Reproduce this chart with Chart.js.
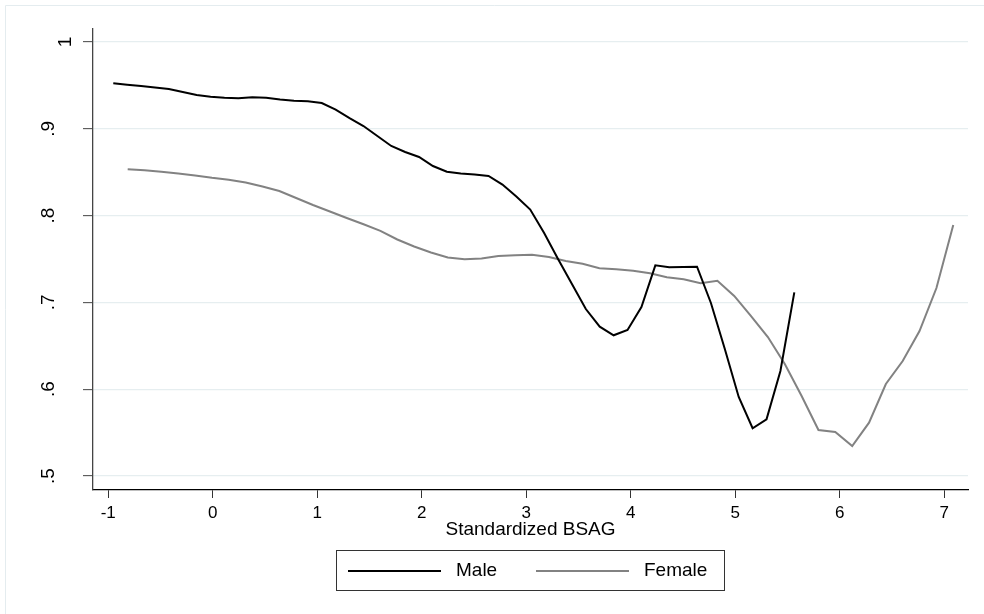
<!DOCTYPE html>
<html><head><meta charset="utf-8">
<script src="https://cdn.jsdelivr.net/npm/chart.js@4.4.0/dist/chart.umd.min.js"></script>
<style>html,body{margin:0;padding:0;background:#fff;}#wrap{width:984px;height:614px;}canvas{display:block;}</style>
</head><body><div id="wrap"><canvas id="c" width="984" height="614"></canvas></div>
<script>
const maleX = [-0.952,-0.819,-0.686,-0.553,-0.420,-0.287,-0.154,-0.021,0.112,0.245,0.378,0.511,0.644,0.777,0.910,1.043,1.176,1.309,1.442,1.575,1.708,1.841,1.974,2.107,2.240,2.373,2.506,2.639,2.772,2.905,3.038,3.171,3.304,3.437,3.570,3.703,3.836,3.969,4.102,4.235,4.368,4.501,4.634,4.767,4.900,5.033,5.166,5.299,5.432,5.565];
const maleY = [0.9524,0.9507,0.9493,0.9476,0.9459,0.9424,0.9389,0.9369,0.9357,0.9351,0.9364,0.9357,0.9338,0.9324,0.9317,0.9297,0.9222,0.9124,0.9032,0.8917,0.8802,0.8733,0.8675,0.8571,0.8506,0.8485,0.8474,0.8456,0.8358,0.8220,0.8070,0.7800,0.7500,0.7212,0.6924,0.6720,0.6621,0.6682,0.6947,0.7427,0.7404,0.7408,0.7411,0.6993,0.6463,0.5910,0.5550,0.5653,0.6210,0.7116];
const femaleX = [-0.814,-0.653,-0.492,-0.330,-0.169,-0.008,0.153,0.315,0.476,0.637,0.798,0.959,1.121,1.282,1.443,1.604,1.766,1.927,2.088,2.249,2.410,2.572,2.733,2.894,3.055,3.217,3.378,3.539,3.700,3.861,4.023,4.184,4.345,4.506,4.668,4.829,4.990,5.151,5.312,5.474,5.635,5.796,5.957,6.119,6.280,6.441,6.602,6.763,6.925,7.086];
const femaleY = [0.8533,0.8522,0.8505,0.8485,0.8462,0.8435,0.8414,0.8381,0.8335,0.8283,0.8203,0.8122,0.8047,0.7972,0.7900,0.7825,0.7725,0.7644,0.7575,0.7517,0.7497,0.7506,0.7535,0.7543,0.7548,0.7523,0.7477,0.7445,0.7393,0.7381,0.7365,0.7335,0.7289,0.7266,0.7220,0.7250,0.7074,0.6843,0.6601,0.6290,0.5922,0.5530,0.5507,0.5346,0.5614,0.6060,0.6325,0.6670,0.7166,0.7892];
const xTicks = [-1,0,1,2,3,4,5,6,7];
const xTickLabels = ['-1','0','1','2','3','4','5','6','7'];
const yTicks = [0.5,0.6,0.7,0.8,0.9,1];
const yTickLabels = ['.5','.6','.7','.8','.9','1'];
const seriesNames = ['Male','Female'];
const xTitle = 'Standardized BSAG';

const FONT = '"Liberation Sans", Arial, Helvetica, sans-serif';
const toPts = (xs, ys) => xs.map((x, i) => ({x: x, y: ys[i]}));

const framePlugin = {
  id: 'frame',
  beforeDraw(chart) {
    const ctx = chart.ctx;
    ctx.save();
    ctx.fillStyle = '#ffffff';
    ctx.fillRect(0, 0, chart.width, chart.height);
    ctx.strokeStyle = '#e4ecef';
    ctx.lineWidth = 1;
    ctx.beginPath();
    ctx.moveTo(5.5, chart.height);
    ctx.lineTo(5.5, 5.5);
    ctx.lineTo(chart.width, 5.5);
    ctx.stroke();
    ctx.restore();
  }
};

const yLabelPlugin = {
  id: 'ylabels',
  afterDraw(chart) {
    const ctx = chart.ctx;
    const sc = chart.scales.y;
    ctx.save();
    ctx.fillStyle = '#000';
    ctx.font = '19px ' + FONT;
    ctx.textAlign = 'center';
    ctx.textBaseline = 'middle';
    sc.ticks.forEach((t) => {
      const py = sc.getPixelForValue(t.value);
      const lab = yTickLabels[yTicks.indexOf(t.value)];
      const cx = lab.length === 1 ? 65.5 : 49;
      ctx.save();
      ctx.translate(cx, py);
      ctx.rotate(-Math.PI / 2);
      ctx.fillText(lab, 0, 0);
      ctx.restore();
    });
    ctx.restore();
  }
};

const legendPlugin = {
  id: 'boxlegend',
  afterDraw(chart) {
    const ctx = chart.ctx;
    ctx.save();
    ctx.strokeStyle = '#333333';
    ctx.lineWidth = 1;
    ctx.strokeRect(336.5, 550.5, 388, 40);
    const items = [
      {x0: 348, x1: 441, tx: 456, ds: chart.data.datasets[0]},
      {x0: 536, x1: 629, tx: 644, ds: chart.data.datasets[1]}
    ];
    ctx.font = '19px ' + FONT;
    ctx.textAlign = 'left';
    ctx.textBaseline = 'middle';
    items.forEach(it => {
      ctx.strokeStyle = it.ds.borderColor;
      ctx.lineWidth = 2;
      ctx.beginPath();
      ctx.moveTo(it.x0, 571);
      ctx.lineTo(it.x1, 571);
      ctx.stroke();
      ctx.fillStyle = '#000';
      ctx.fillText(it.ds.label, it.tx, 571);
    });
    ctx.restore();
  }
};

new Chart(document.getElementById('c'), {
  type: 'line',
  data: {
    datasets: [
      {label: seriesNames[0], data: toPts(maleX, maleY), borderColor: '#000000', borderWidth: 2, pointRadius: 0, tension: 0, fill: false},
      {label: seriesNames[1], data: toPts(femaleX, femaleY), borderColor: '#828282', borderWidth: 2, pointRadius: 0, tension: 0, fill: false}
    ]
  },
  options: {
    responsive: false,
    animation: false,
    devicePixelRatio: 1,
    layout: {padding: {left: 0, right: 16, top: 29, bottom: 0}},
    plugins: {legend: {display: false}, tooltip: {enabled: false}},
    scales: {
      x: {
        type: 'linear',
        min: -1.146,
        max: 7.227,
        afterBuildTicks(s) { s.ticks = xTicks.map(v => ({value: v})); },
        afterFit(s) { s.height = 124; },
        ticks: {
          color: '#000',
          font: {family: FONT, size: 17, lineHeight: 1.2},
          padding: 5.5,
          maxRotation: 0,
          minRotation: 0,
          autoSkip: false,
          callback(v) { return xTickLabels[xTicks.indexOf(v)]; }
        },
        grid: {drawOnChartArea: false, drawTicks: true, tickLength: 8, tickColor: '#333333', tickWidth: 1},
        border: {display: true, color: '#000000', width: 1.3},
        title: {display: true, text: xTitle, color: '#000', font: {family: FONT, size: 19, lineHeight: 1.2}, padding: {top: 0, bottom: 72.6}}
      },
      y: {
        type: 'linear',
        min: 0.48387,
        max: 1.01498,
        afterBuildTicks(s) { s.ticks = yTicks.map(v => ({value: v})); },
        afterFit(s) { s.width = 93; },
        ticks: {color: 'rgba(0,0,0,0)', font: {family: FONT, size: 17}, callback() { return ''; }},
        grid: {color: '#e6eef0', lineWidth: 1.3, drawTicks: true, tickLength: 10, tickColor: '#444444', tickWidth: 1},
        border: {display: true, color: '#444444', width: 1.3}
      }
    }
  },
  plugins: [framePlugin, yLabelPlugin, legendPlugin]
});
</script>
</body></html>
